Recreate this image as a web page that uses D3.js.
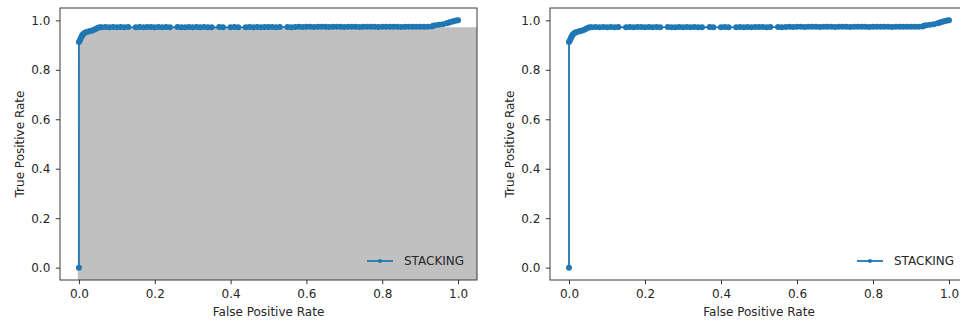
<!DOCTYPE html>
<html>
<head>
<meta charset="utf-8">
<script src="https://cdn.jsdelivr.net/npm/d3@7"></script>
<style>
  html, body { margin: 0; padding: 0; background: #fff; }
  svg { display: block; font-family: "DejaVu Sans", sans-serif; }
</style>
</head>
<body>
<svg id="chart" width="960" height="322"></svg>
<script>
// ROC curve of the stacking model
const fpr = [0, 0, 0.002, 0.004, 0.006, 0.008, 0.010, 0.013, 0.016, 0.020, 0.025, 0.030, 0.035, 0.040, 0.045, 0.050, 0.055,
  0.06, 0.07, 0.08, 0.09, 0.10, 0.11, 0.12, 0.13, 0.15, 0.16, 0.17, 0.18, 0.19, 0.20, 0.21, 0.22, 0.23, 0.24, 0.26, 0.27,
  0.28, 0.29, 0.30, 0.31, 0.32, 0.33, 0.34, 0.35, 0.37, 0.38, 0.40, 0.41, 0.42, 0.44, 0.45, 0.46, 0.47, 0.48, 0.49, 0.50,
  0.51, 0.52, 0.53, 0.55, 0.56, 0.57, 0.58, 0.59, 0.60, 0.61, 0.62, 0.63, 0.64, 0.65, 0.66, 0.67, 0.68, 0.69, 0.70, 0.71,
  0.72, 0.73, 0.74, 0.75, 0.76, 0.77, 0.78, 0.79, 0.80, 0.81, 0.82, 0.83, 0.84, 0.85, 0.86, 0.87, 0.88, 0.89, 0.90, 0.91,
  0.92, 0.93, 0.935, 0.94, 0.95, 0.96, 0.97, 0.975, 0.98, 0.985, 0.99, 0.995, 1.0];
const tpr = [0, 0.912, 0.918, 0.925, 0.932, 0.938, 0.943, 0.947, 0.950, 0.953, 0.955, 0.957, 0.959, 0.962, 0.966, 0.970, 0.972,
  0.972, 0.973, 0.972, 0.973, 0.972, 0.973, 0.972, 0.973, 0.972, 0.973, 0.972, 0.973, 0.973, 0.972, 0.973, 0.972, 0.973, 0.972, 0.973, 0.972,
  0.972, 0.973, 0.972, 0.973, 0.972, 0.973, 0.972, 0.972, 0.973, 0.972, 0.972, 0.973, 0.972, 0.972, 0.973, 0.972, 0.973, 0.972, 0.973, 0.973,
  0.973, 0.972, 0.973, 0.973, 0.972, 0.973, 0.974, 0.973, 0.974, 0.974, 0.973, 0.974, 0.974, 0.974, 0.973, 0.974, 0.974, 0.974, 0.973, 0.974,
  0.974, 0.974, 0.973, 0.974, 0.974, 0.974, 0.974, 0.973, 0.974, 0.974, 0.974, 0.974, 0.974, 0.973, 0.974, 0.974, 0.974, 0.974, 0.974, 0.974,
  0.974, 0.975, 0.978, 0.980, 0.982, 0.984, 0.988, 0.990, 0.993, 0.995, 0.997, 0.999, 1.0];
const seriesName = "STACKING";
const xTicks = [0.0, 0.2, 0.4, 0.6, 0.8, 1.0];
const yTicks = [0.0, 0.2, 0.4, 0.6, 0.8, 1.0];
const shadeCap = 0.972;

const points = fpr.map((x, i) => ({ x, y: tpr[i] }));
const blue = "#1f77b4";
const textColor = "#262626";
const svg = d3.select("#chart");

const panels = [
  { left: 60, right: 477, shaded: true, ylabelX: 24, legendX: 367 },
  { left: 550, right: 968, shaded: false, ylabelX: 514, legendX: 857 }
];
const plotTop = 8, plotBottom = 280;

panels.forEach(p => {
  const x = d3.scaleLinear().domain([-0.05, 1.05]).range([p.left, p.right]);
  const y = d3.scaleLinear().domain([-0.05, 1.05]).range([plotBottom, plotTop]);
  const g = svg.append("g");

  const clipId = "clip" + p.left;
  g.append("clipPath").attr("id", clipId)
    .append("rect").attr("x", p.left).attr("y", plotTop)
    .attr("width", p.right - p.left).attr("height", plotBottom - plotTop);

  const plot = g.append("g").attr("clip-path", `url(#${clipId})`);

  if (p.shaded) {
    const shade = points.map(d => ({ x: d.x, y: Math.min(d.y, shadeCap) }));
    shade.unshift({ x: -0.003, y: 0 }, { x: -0.003, y: tpr[1] });
    shade.push({ x: 1.05, y: shadeCap });
    plot.append("path")
      .datum(shade)
      .attr("fill", "#c0c0c0")
      .attr("d", d3.area().x(d => x(d.x)).y0(y(-0.05)).y1(d => y(d.y)));
  }

  plot.append("path")
    .datum(points)
    .attr("fill", "none")
    .attr("stroke", blue)
    .attr("stroke-width", 1.8)
    .attr("d", d3.line().x(d => x(d.x)).y(d => y(d.y)));

  plot.selectAll("circle.pt").data(points).enter().append("circle")
    .attr("class", "pt")
    .attr("cx", d => x(d.x)).attr("cy", d => y(d.y))
    .attr("r", 3).attr("fill", blue);

  // axes
  const xAxis = g.append("g").attr("transform", `translate(0,${plotBottom})`)
    .call(d3.axisBottom(x).tickValues(xTicks).tickFormat(d3.format(".1f")).tickSize(4.2).tickPadding(5.5));
  const yAxis = g.append("g").attr("transform", `translate(${p.left},0)`)
    .call(d3.axisLeft(y).tickValues(yTicks).tickFormat(d3.format(".1f")).tickSize(4.2).tickPadding(5.5));
  [xAxis, yAxis].forEach(a => {
    a.select(".domain").remove();
    a.selectAll(".tick line").attr("stroke", "#333").attr("stroke-width", 1);
    a.selectAll(".tick text").attr("fill", textColor).style("font-size", "12px")
      .style("font-family", "'DejaVu Sans', sans-serif");
  });

  // frame
  g.append("rect")
    .attr("x", p.left).attr("y", plotTop)
    .attr("width", p.right - p.left).attr("height", plotBottom - plotTop)
    .attr("fill", "none").attr("stroke", "#3a3a3a").attr("stroke-width", 1);

  // axis titles
  g.append("text")
    .attr("x", (p.left + p.right) / 2).attr("y", 316)
    .attr("text-anchor", "middle").attr("fill", textColor)
    .style("font-size", "12px").text("False Positive Rate");
  g.append("text")
    .attr("transform", `translate(${p.ylabelX},${(plotTop + plotBottom) / 2}) rotate(-90)`)
    .attr("text-anchor", "middle").attr("fill", textColor)
    .style("font-size", "12px").text("True Positive Rate");

  // legend
  const lx = p.legendX, ly = 261;
  g.append("line").attr("x1", lx).attr("x2", lx + 26).attr("y1", ly).attr("y2", ly)
    .attr("stroke", blue).attr("stroke-width", 1.8);
  g.append("circle").attr("cx", lx + 13).attr("cy", ly).attr("r", 2).attr("fill", blue);
  g.append("text").attr("x", lx + 37).attr("y", ly + 4.3)
    .attr("fill", textColor).style("font-size", "12px").text(seriesName);
});
</script>
</body>
</html>
